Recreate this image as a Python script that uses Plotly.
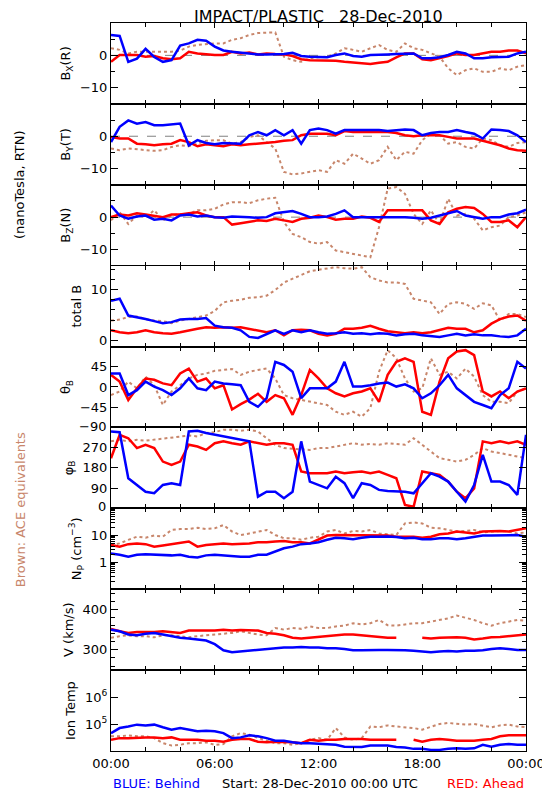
import plotly.graph_objects as go
from plotly.subplots import make_subplots

# time grid in hours since 28-Dec-2010 00:00 UTC (30-minute samples)
HOURS = [i * 0.5 for i in range(49)]

BX_BLUE = [6.3,6.0,-2,-1,2,-0.5,-2,-1.5,3,3.7,4.8,4.5,2.7,1.5,1.1,0.8,0.6,0.3,0.3,0.3,0.4,0.8,-0.2,-0.4,-0.4,-0.6,0.1,0.6,-0.2,-0.4,0.1,0.3,0.3,0.4,0.6,0.6,-0.9,-0.9,-0.6,0.1,1.1,0.6,-0.9,-0.9,-0.6,-0.6,-0.4,0.6,1.1]
BX_RED = [-2,0.1,0.1,0.1,-0.4,-0.2,-0.9,-1.2,-0.9,1.1,0.6,0.3,0.1,0.1,1.1,0.6,0.9,0.3,0.6,0.4,0.3,-0.2,-1.2,-1.5,-1.5,-1.5,-1.7,-2,-2.3,-2.5,-2.7,-2.3,-2,-0.6,0.6,0.6,-1.2,-1.5,-0.9,-0.2,0.6,0.1,0.1,0.6,1.1,1.1,1.5,1.5,0.6]
BX_BROWN = [2.2,1.7,0.6,1.1,1.1,1.1,1.1,1.1,1.5,2.7,3.2,3.5,3.7,3.7,4.8,5.3,6.3,6.9,6.9,7.1,-0.4,-1.5,-2,-0.9,-0.6,-0.4,0.6,2.2,1.7,1.1,2.2,3.2,1.7,1.1,3.7,2.2,1.7,0.6,-0.4,-4,-6.1,-4.6,-4,-5.1,-5.1,-4,-4.6,-3.5,-3]

BY_BLUE = [-1.8,2.9,4.9,3.9,4.4,3.4,3.4,3.7,3.9,-2.8,-1.2,-2.1,-2.5,-2.1,-2.1,-2.3,0.3,1.3,0.3,1.9,0.3,1.9,-2.3,1.9,2.4,1.9,0.8,1.9,1.9,1.9,1.9,1.9,1.6,1.9,2.1,1.9,0.3,1.0,1.3,1.3,1.9,1.3,0.8,-0.7,2.1,1.9,1.6,0.3,-1.8]
BY_RED = [-0.2,-0.7,-0.7,-2.3,-2.5,-2.8,-2.5,-2.3,-1.2,-1.8,-3.1,-2.5,-2.8,-3.1,-2.5,-2.8,-2.5,-2.3,-2.1,-1.8,-1.4,-1.2,0.3,0.8,0.8,0.8,0.3,1.6,1.3,1.3,1.3,1.3,1.3,1.0,0.3,0,0.3,0.3,0.3,-0.2,-0.7,-0.7,-0.7,-1.4,-2.1,-2.8,-3.8,-4.3,-4.5]
BY_BROWN = [-3.8,-4.3,-3.8,-4.1,-4.3,-4.5,-4.3,-3.3,-2.8,-3.1,-2.3,-1.4,-1.2,-1.2,-2.3,-1.8,-0.2,0.3,-1.8,-3.8,-11,-11.8,-11.5,-11,-10.5,-11,-7.4,-8.5,-5.4,-6.9,-8.5,-7.4,-3.3,-7.4,-4.8,-5.4,-1.2,0.8,0.3,-2.3,-1.8,-3.3,-3.8,-0.7,-1.2,-2.8,-3.3,-2.1,-1.8]

BZ_BLUE = [3.6,0.5,-0.5,0.2,0.5,-0.8,-0.5,-1,0.5,0.8,0.2,0.5,0,-0.2,0.2,0.2,0,-0.2,0,1.2,1.5,1.9,1,0,0,0.2,1,2.1,0,0,0.2,0,0.2,0,0,-0.2,-0.5,-0.2,0.5,1.2,1.9,0.5,0,-0.5,0,0,0.8,1.2,2.3]
BZ_RED = [0,0.8,0.5,1.2,0.8,0.5,0,0.8,0.8,1.2,1.5,0.5,0,0,-2.3,-1.9,-1.5,-1,-1.2,-0.5,-1,-1.5,-0.5,-0.2,0.5,0,-0.8,-0.5,-0.5,0.2,-0.2,-1.5,2.1,2.1,1.9,2.1,2.1,-1,-2.1,1.5,2.6,3.1,2.8,1,-1.5,-1.5,-1,-3.1,0]
BZ_BROWN = [-1,1.5,-2.1,0.5,0,2.1,-1,0.5,1,1,2.1,2.1,2.6,3.9,4.6,4.6,4.3,5.2,5.7,6,-1.5,-5.2,-6.2,-7.7,-8.2,-7.7,-10.3,-10.8,-11.3,-11.9,-12.4,-3.1,8.8,9.3,7.2,1,-2.1,2.1,-2.1,5.7,0.5,1,-0.5,-4.1,-3.1,-2.6,0,0.5,1.5]

BT_BLUE = [7.8,8.2,4.9,4.6,4.2,3.8,3.4,3.6,4.1,4.2,4.2,4.4,2.9,2.6,2.5,2.0,0.7,0.5,1.3,2.0,1.3,2.0,1.6,2.0,1.6,1.3,1.4,1.6,1.3,1.4,1.2,1.4,1.3,1.0,1.2,1.3,1.0,0.8,0.7,1.0,1.3,1.0,1.2,1.0,1.0,0.8,0.7,1.0,2.3]
BT_RED = [2.0,1.6,1.4,1.6,2.0,1.6,1.4,1.3,1.6,2.0,2.3,2.6,2.5,2.6,2.5,2.6,2.3,2.0,1.6,2.0,1.0,2.0,2.1,2.0,1.3,1.0,1.3,2.3,2.3,2.5,2.9,2.3,1.8,1.6,1.4,1.6,1.4,1.6,2.0,2.5,2.3,2.3,1.6,2.0,3.3,4.2,4.7,4.9,3.9]
BT_BROWN = [3.9,4.1,4.6,4.7,4.2,3.9,3.8,3.4,3.9,4.2,4.6,4.9,5.8,7.5,7.8,8.0,8.4,8.5,8.8,9.9,11.4,12.1,12.9,13.6,13.9,14.1,14.4,14.2,14.1,14.4,12.4,11.8,11.4,11.4,11.1,8.2,7.8,7.5,5.2,7.2,7.5,7.2,6.2,7.3,6.9,3.9,5.2,5.2,4.6]

THETA_BLUE = [30,30,-18,-7,12,1,-7,-18,-3,19,-3,-7,12,8,6,4,-33,-44,-25,56,49,34,-25,-3,-3,-3,12,56,1,1,4,8,10,1,6,-3,-25,-14,4,27,-3,-18,-33,-40,-47,-18,-3,56,41]
THETA_RED = [27,12,-29,-3,19,16,8,4,30,41,12,19,-3,4,-50,-38,-28,-15,-33,-18,-25,-62,-18,38,19,-3,-14,-21,-14,-10,-3,-33,27,56,64,56,-55,-62,12,64,79,82,71,-10,-21,-10,-25,-10,-3]
THETA_BROWN = [-18,-10,12,-3,23,4,-40,-10,4,19,27,30,36,38,40,27,34,38,41,19,-18,-25,-29,-33,-36,-40,-55,-62,-55,-66,-47,34,82,64,19,-10,-3,64,27,34,19,41,23,-18,-33,-33,-36,-10,-3]

PHI_BLUE = [342,339,134,104,74,67,104,112,104,342,345,335,327,320,312,305,298,52,74,74,45,74,298,119,104,89,141,112,45,112,104,82,77,74,74,67,112,156,141,119,74,30,104,238,119,119,104,60,327]
PHI_RED = [223,327,312,268,283,268,208,193,208,283,275,260,290,298,290,283,298,290,283,290,290,283,164,156,156,156,164,156,161,164,156,164,149,134,15,7,164,156,149,119,74,45,89,298,290,298,290,298,283]
PHI_BROWN = [298,305,298,305,301,305,312,316,320,324,320,335,339,350,350,345,350,342,312,283,268,265,260,260,268,268,275,283,290,283,286,283,290,286,283,312,283,253,223,216,208,216,238,268,253,246,238,231,223]

NP_BLUE = [2.1,1.9,1.6,1.9,2.0,1.9,1.9,1.8,1.9,1.6,1.5,1.8,1.9,1.8,1.6,1.6,1.6,1.9,1.9,2.5,3.3,3.8,4.7,5.0,5.5,6.8,8.1,7.8,7.2,8.1,8.9,8.9,9.1,8.7,7.8,8.1,7.2,7.2,7.8,7.8,7.2,7.8,8.9,9.8,9.8,9.8,9.8,10.2,8.9]
NP_RED = [4.4,3.8,4.7,5.0,4.7,3.8,4.2,4.7,5.5,5.9,3.8,4.4,4.7,5.0,4.7,4.7,5.0,5.5,5.5,5.9,6.2,5.5,5.5,5.0,6.8,9.8,10.2,10.2,10.2,10.2,9.8,9.8,9.8,8.9,8.9,8.9,8.1,8.9,11.0,11.7,13.8,12.9,11.7,13.8,14.5,14.5,13.8,15.8,18.2]
NP_BROWN = [4.2,5.0,6.8,8.9,8.1,9.8,8.9,15.8,17.0,17.0,19.0,17.0,18.2,24.0,13.8,10.2,11.7,13.8,15.8,10.2,7.8,7.8,6.8,8.1,8.9,13.8,15.8,11.7,14.5,13.8,15.8,11.7,11.0,10.2,27.5,30.0,27.5,19.0,18.2,15.8,13.8,14.5,15.8,12.9,13.8,14.5,13.8,11.7,12.9]

V_BLUE = [350,346,338,336,340,342,338,334,330,328,326,323,314,299,294,296,298,299,302,304,306,306,307,306,306,304,304,302,299,299,300,300,300,300,299,298,296,294,296,297,296,298,298,299,302,304,302,300,300]
V_RED = [352,346,342,344,344,344,346,344,342,348,348,349,348,350,348,349,349,348,342,340,336,330,328,330,331,334,336,338,338,336,334,331,330,330,None,None,330,328,330,331,331,330,326,328,331,332,334,335,338]
V_BROWN = [330,334,336,334,334,331,336,336,334,331,334,336,338,340,342,346,342,338,336,354,350,354,352,358,354,354,358,360,366,363,366,374,361,360,363,366,366,370,374,378,385,380,374,366,360,366,370,374,372]

T_BLUE = [46e3,71e3,81e3,95e3,89e3,95e3,76e3,62e3,71e3,62e3,54e3,56e3,54e3,46e3,30e3,32e3,38e3,35e3,30e3,24e3,24e3,21e3,19.5e3,19.5e3,19e3,18e3,17e3,14.5e3,14e3,14e3,16e3,16e3,16e3,14e3,13.5e3,12e3,12e3,11e3,11e3,12e3,12.6e3,12e3,12.6e3,17e3,14.5e3,17e3,18e3,17e3,17e3]
T_RED = [26e3,30e3,30e3,32e3,32e3,32e3,30e3,32e3,26e3,26e3,26e3,24e3,24e3,22e3,26e3,28e3,28e3,22e3,21e3,22e3,22e3,21e3,19.5e3,26e3,24e3,26e3,26e3,28e3,28e3,28e3,26e3,26e3,26e3,26e3,None,26e3,22e3,26e3,28e3,26e3,24e3,24e3,24e3,26e3,28e3,35e3,38e3,38e3,38e3]
T_BROWN = [35e3,35e3,38e3,35e3,35e3,30e3,19.5e3,16e3,17e3,19.5e3,19.5e3,21e3,17e3,18e3,35e3,46e3,40e3,30e3,24e3,19.5e3,19.5e3,17e3,19.5e3,26e3,30e3,26e3,71e3,32e3,26e3,30e3,81e3,76e3,89e3,81e3,76e3,71e3,62e3,81e3,100e3,110e3,100e3,95e3,100e3,89e3,76e3,89e3,95e3,81e3,76e3]

X_TICKS = [0, 6, 12, 18, 24]
X_LABELS = ["00:00", "06:00", "12:00", "18:00", "00:00"]

BLUE = "#0000ff"
RED = "#ff0000"
BROWN = "#c8866b"
FONT = "DejaVu Sans"

# edge labels that the reference lifts slightly off the panel's bottom edge: (row, value, text)
EDGE_LABELS = [(5, -87, "\u221290"), (6, 6, "0")]

panels = [
    dict(title="B<sub>X</sub>(R)", data=(BX_BROWN, BX_RED, BX_BLUE), rng=[-15, 10],
         tv=[-10, 0], tt=["\u221210", "0"], minor=[-15, -5, 5], zero=True, log=False),
    dict(title="B<sub>Y</sub>(T)", data=(BY_BROWN, BY_RED, BY_BLUE), rng=[-15, 10],
         tv=[-10, 0], tt=["\u221210", "0"], minor=[-15, -5, 5], zero=True, log=False),
    dict(title="B<sub>Z</sub>(N)", data=(BZ_BROWN, BZ_RED, BZ_BLUE), rng=[-15, 10],
         tv=[-10, 0], tt=["\u221210", "0"], minor=[-15, -5, 5], zero=True, log=False),
    dict(title="total B", data=(BT_BROWN, BT_RED, BT_BLUE), rng=[-1.2, 14.7],
         tv=[0, 10], tt=["0", "10"], minor=[2, 4, 6, 8, 12, 14], zero=False, log=False),
    dict(title="\u03b8<sub>B</sub>", data=(THETA_BROWN, THETA_RED, THETA_BLUE), rng=[-90, 90],
         tv=[-45, 0, 45], tt=["\u221245", "0", "45"], minor=[], zero=False, log=False),
    dict(title="\u03c6<sub>B</sub>", data=(PHI_BROWN, PHI_RED, PHI_BLUE), rng=[0, 360],
         tv=[90, 180, 270], tt=["90", "180", "270"], minor=[], zero=False, log=False),
    dict(title="N<sub>P</sub> (cm<sup>\u22123</sup>)", data=(NP_BROWN, NP_RED, NP_BLUE), rng=[-1, 2],
         tv=[1, 10], tt=["1", "10"],
         minor=[0.2, 0.3, 0.4, 0.5, 0.6, 0.7, 0.8, 0.9, 2, 3, 4, 5, 6, 7, 8, 9, 20, 30, 40, 50, 60, 70, 80, 90],
         zero=False, log=True),
    dict(title="V (km/s)", data=(V_BROWN, V_RED, V_BLUE), rng=[250, 450],
         tv=[300, 400], tt=["300", "400"], minor=[260, 280, 320, 340, 360, 380, 420, 440], zero=False, log=False),
    dict(title="Ion Temp", data=(T_BROWN, T_RED, T_BLUE), rng=[4, 7],
         tv=[1e5, 1e6], tt=["10<sup>5</sup>", "10<sup>6</sup>"], minor=[], zero=False, log=True),
]

n = len(panels)
fig = make_subplots(rows=n, cols=1, shared_xaxes=True, vertical_spacing=0)

for r, p in enumerate(panels, start=1):
    brown, red, blue = p["data"]
    fig.add_trace(go.Scatter(x=HOURS, y=brown, mode="lines", connectgaps=False,
                             line=dict(color=BROWN, width=2, dash="dot"), showlegend=False),
                  row=r, col=1)
    fig.add_trace(go.Scatter(x=HOURS, y=red, mode="lines", connectgaps=False,
                             line=dict(color=RED, width=2.5), showlegend=False),
                  row=r, col=1)
    fig.add_trace(go.Scatter(x=HOURS, y=blue, mode="lines", connectgaps=False,
                             line=dict(color=BLUE, width=2.5), showlegend=False),
                  row=r, col=1)
    if p["zero"]:
        fig.add_hline(y=0, row=r, col=1, line=dict(color="#808080", width=1, dash="dash"), layer="below")

    fig.update_yaxes(
        row=r, col=1,
        type="log" if p["log"] else "linear",
        range=p["rng"], tickmode="array", tickvals=p["tv"], ticktext=p["tt"],
        ticks="inside", ticklen=7, tickwidth=1, tickcolor="black",
        minor=dict(tickmode="array", tickvals=p["minor"], ticks="inside", ticklen=4, tickcolor="black"),
        showline=True, linecolor="black", linewidth=1, mirror="ticks",
        showgrid=False, zeroline=False, automargin=False,
        tickfont=dict(family=FONT, size=13, color="black"),
        title=dict(text=p["title"], font=dict(family=FONT, size=13, color="black"), standoff=6),
    )
    fig.update_xaxes(
        row=r, col=1,
        range=[0, 24], tickmode="array", tickvals=X_TICKS, ticktext=X_LABELS,
        showticklabels=(r == n),
        ticks="inside", ticklen=5, tickwidth=1, tickcolor="black",
        minor=dict(tickmode="array", tickvals=[2, 4, 8, 10, 14, 16, 20, 22], ticks="inside", ticklen=4, tickcolor="black"),
        showline=True, linecolor="black", linewidth=1, mirror="ticks",
        showgrid=False, zeroline=False, automargin=False,
        tickfont=dict(family=FONT, size=13, color="black"),
    )

for row, val, txt in EDGE_LABELS:
    yref = "y" if row == 1 else f"y{row}"
    fig.add_annotation(text=txt, x=0, xref="paper", xanchor="right", xshift=-3,
                       y=val, yref=yref, yanchor="middle", showarrow=False,
                       font=dict(family=FONT, size=13, color="black"))

annotations = [
    dict(text="IMPACT/PLASTIC\u00a0\u00a0\u00a028-Dec-2010", x=0.5, y=1.0096, xref="paper", yref="paper",
         xanchor="center", yanchor="middle", showarrow=False,
         font=dict(family=FONT, size=16, color="black")),
    dict(text="(nanoTesla, RTN)", x=-0.219, y=0.7775, xref="paper", yref="paper", textangle=-90,
         xanchor="center", yanchor="middle", showarrow=False, font=dict(family=FONT, size=13, color="black")),
    dict(text="Brown: ACE equivalents", x=-0.219, y=0.331, xref="paper", yref="paper", textangle=-90,
         xanchor="center", yanchor="middle", showarrow=False, font=dict(family=FONT, size=13, color=BROWN)),
    dict(text="BLUE: Behind", x=0.0, y=-0.0453, xref="paper", yref="paper", xanchor="left", yanchor="middle",
         showarrow=False, font=dict(family=FONT, size=13, color=BLUE)),
    dict(text="Start: 28-Dec-2010 00:00 UTC", x=0.503, y=-0.0453, xref="paper", yref="paper",
         xanchor="center", yanchor="middle", showarrow=False, font=dict(family=FONT, size=13, color="black")),
    dict(text="RED: Ahead", x=1.0, y=-0.0453, xref="paper", yref="paper", xanchor="right", yanchor="middle",
         showarrow=False, font=dict(family=FONT, size=13, color=RED)),
]
for a in annotations:
    fig.add_annotation(**a)

# the page body adds an 8 px offset, so the figure is 542x792 and margins are set for
# a plot area spanning x 111..526 and y 23..751 in the window
fig.update_layout(
    width=542, height=792,
    margin=dict(l=103, r=24, t=15, b=49, autoexpand=False),
    paper_bgcolor="white", plot_bgcolor="white",
    font=dict(family=FONT, size=13, color="black"),
    showlegend=False,
)

fig.write_html("out.html")
